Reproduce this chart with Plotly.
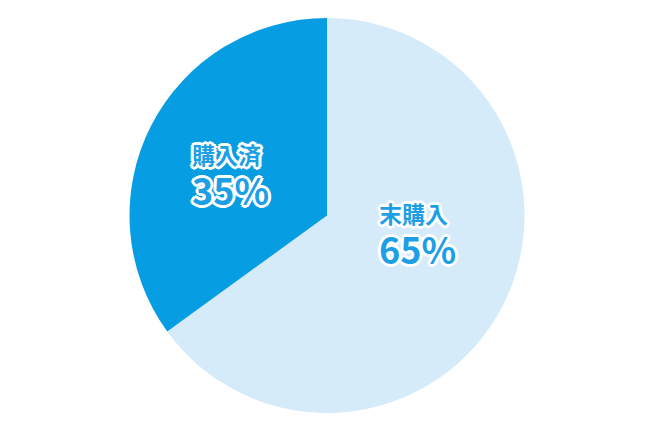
import plotly.graph_objs as go

# Survey result: purchased vs not purchased
labels = ["末購入", "購入済"]
values = [65, 35]
colors = ["#d5ebfa", "#069de3"]

# left / middle anchor (paper coords) of each slice's text block
label_pos = [(0.5642, 0.4745), (0.2783, 0.6105)]

text_color = "#1c9fe4"
outline = ",".join(
    f"{dx}px {dy}px 0 #ffffff"
    for dx, dy in [(-2, 0), (2, 0), (0, -2), (0, 2), (-2, -2), (2, 2), (-2, 2), (2, -2),
                   (-3, 0), (3, 0), (0, -3), (0, 3)]
)

fig = go.Figure()

# page body has an 8px margin, so the domain is shifted to keep the pie centred
fig.add_trace(go.Pie(
    labels=labels,
    values=values,
    sort=False,
    direction="clockwise",
    rotation=0,
    marker=dict(colors=colors, line=dict(width=0)),
    textinfo="none",
    hoverinfo="label+percent",
    showlegend=False,
    domain=dict(x=[0.0878, 0.8878], y=[0.0625, 0.9769]),
))

for label, value, (lx, ly) in zip(labels, values, label_pos):
    fig.add_annotation(
        x=lx, y=ly, xref="paper", yref="paper",
        text=(f"<span style='font-size:23px'><b>{label}</b></span><br>"
              f"<span style='font-size:36px'><b>{value}%</b></span>"),
        showarrow=False,
        xanchor="left", yanchor="middle", align="left",
        font=dict(family="Noto Sans CJK JP", size=31.5, color=text_color, shadow=outline),
    )

fig.update_layout(
    width=654,
    height=432,
    margin=dict(l=0, r=0, t=0, b=0),
    paper_bgcolor="white",
    plot_bgcolor="white",
)

fig.write_html("out.html")
